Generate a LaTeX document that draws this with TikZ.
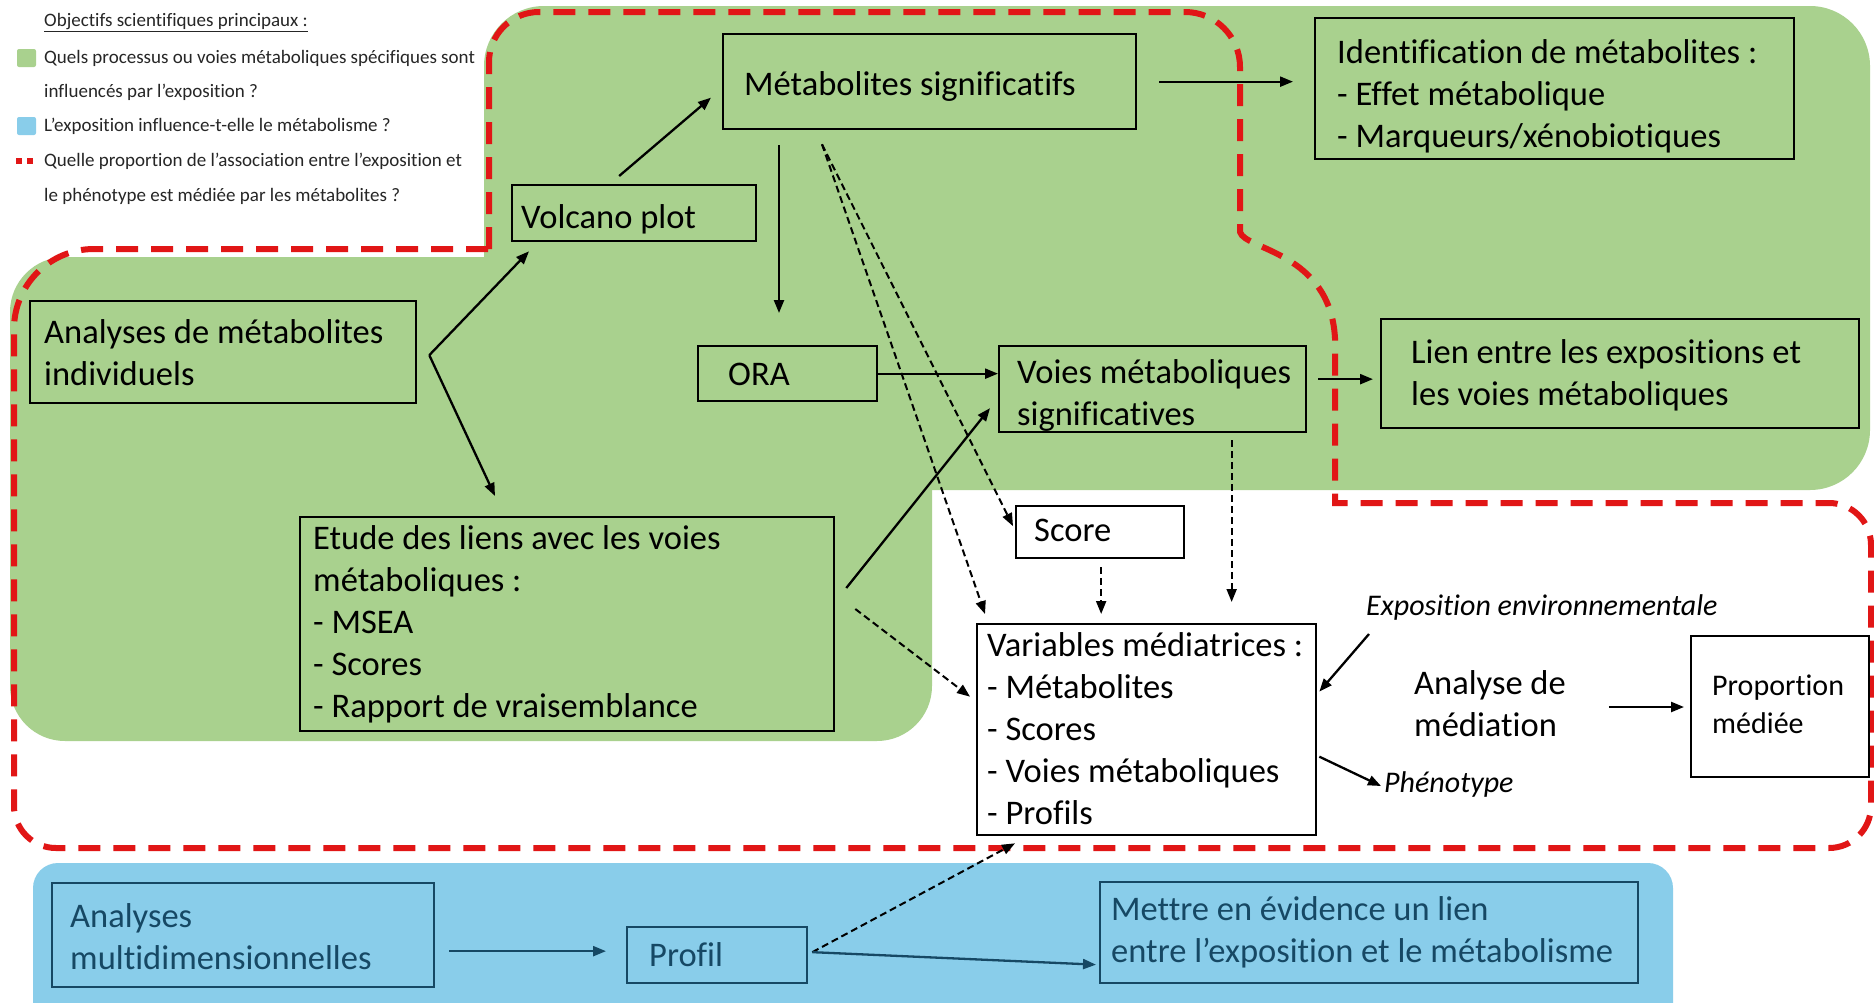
\documentclass[tikz,border=0pt]{standalone}
\usepackage{fontspec}
\setmainfont{Carlito}[Ligatures=CommonOff]
\usetikzlibrary{arrows.meta,calc}
\definecolor{vert}{RGB}{169,209,142}
\definecolor{bleu}{RGB}{137,205,234}
\definecolor{rouge}{RGB}{225,22,22}
\definecolor{bleufonce}{RGB}{22,72,100}
\begin{document}
\begin{tikzpicture}[x=1pt,y=-1pt,
  box/.style={draw, line width=2.3pt, anchor=north west, inner sep=0pt},
  txt/.style={anchor=west, align=left, inner sep=0pt, font=\fontsize{34.5}{42}\selectfont},
  itxt/.style={anchor=west, align=left, inner sep=0pt, font=\fontsize{30}{36}\selectfont\itshape},
  legtxt/.style={anchor=west, inner sep=0pt, font=\fontsize{19}{23}\selectfont, text=black!85},
  arr/.style={line width=2.3pt, -{Triangle[length=13pt,width=10pt]}},
  darr/.style={line width=2pt, dash pattern=on 7pt off 4pt, -{Triangle[length=13pt,width=10pt]}},
  reddash/.style={draw=rouge, line width=6pt, dash pattern=on 22pt off 13pt},
  bluebox/.style={box, draw=bleufonce},
  bluetxt/.style={txt, text=bleufonce},
  bluearr/.style={arr, draw=bleufonce, fill=bleufonce}
]
\useasboundingbox (0,0) rectangle (1874,1002);
% background regions
\fill[white] (0,0) rectangle (1874,1002);
\fill[vert, rounded corners=60pt] (484,6) rectangle (1870,490);
\fill[vert, rounded corners=55pt] (10,257) rectangle (932,741);
\fill[bleu, rounded corners=25pt] (33,863) rectangle (1673,1030);

% legend
\node[legtxt] (legT) at (44,23) {\underline{Objectifs scientifiques principaux :}};
\fill[vert, rounded corners=2pt] (17,49) rectangle (36,67);
\node[legtxt] (leg1) at (44,58) {Quels processus ou voies métaboliques spécifiques sont};
\node[legtxt] (leg2) at (44,92) {influencés par l’exposition ?};
\fill[bleu, rounded corners=2pt] (17,117) rectangle (36,135);
\node[legtxt] (leg3) at (44,126) {L’exposition influence-t-elle le métabolisme ?};
\fill[rouge] (16,158) rectangle (22,164);
\fill[rouge] (27,158) rectangle (33,164);
\node[legtxt] (leg4) at (44,161) {Quelle proportion de l’association entre l’exposition et};
\node[legtxt] (leg5) at (44,196) {le phénotype est médiée par les métabolites ?};

% red dashed boundary
\draw[reddash] (489,249) -- (489,62) .. controls (489,34.4) and (511.4,12) .. (539,12)
  -- (1185,12) .. controls (1215.4,12) and (1240,36.6) .. (1240,67)
  -- (1240,232) .. controls (1245,250) and (1330,252) .. (1335,338)
  -- (1335,503) -- (1829,503) .. controls (1852.2,503) and (1871,521.8) .. (1871,545)
  -- (1871,806) .. controls (1871,829.2) and (1852.2,848) .. (1829,848)
  -- (56,848) .. controls (32.8,848) and (14,829.2) .. (14,806)
  -- (14,329) .. controls (14,284.8) and (49.8,249) .. (94,249)
  -- (489,249);

% boxes
\node[box, minimum width=413pt, minimum height=95pt] (MetSig) at (722,33) {};
\node[txt] (MetSigT) at ($(MetSig.west)+(22,5)$) {Métabolites significatifs};

\node[box, minimum width=479pt, minimum height=141pt] (Ident) at (1314,17) {};
\node[txt] (IdentT) at ($(Ident.west)+(23,8)$) {Identification de métabolites :\\- Effet métabolique\\- Marqueurs/xénobiotiques};

\node[box, minimum width=244pt, minimum height=56pt] (Volcano) at (511,184) {};
\node[txt] (VolcanoT) at ($(Volcano.west)+(10,6)$) {Volcano plot};

\node[box, minimum width=386pt, minimum height=102pt] (AnInd) at (29,300) {};
\node[txt] (AnIndT) at ($(AnInd.west)+(15,0)$) {Analyses de métabolites\\individuels};

\node[box, minimum width=179pt, minimum height=55pt] (ORA) at (697,345) {};
\node[txt] (ORAT) at ($(ORA.west)+(31,1)$) {ORA};

\node[box, minimum width=307pt, minimum height=86pt] (Voies) at (998,345) {};
\node[txt] (VoiesT) at ($(Voies.west)+(19,6)$) {Voies métaboliques\\significatives};

\node[box, minimum width=478pt, minimum height=109pt] (Lien) at (1380,318) {};
\node[txt] (LienT) at ($(Lien.west)+(31,2)$) {Lien entre les expositions et\\les voies métaboliques};

\node[box, minimum width=534pt, minimum height=214pt] (Etude) at (299,516) {};
\node[txt] (EtudeT) at ($(Etude.west)+(14,0)$) {Etude des liens avec les voies\\métaboliques :\\- MSEA\\- Scores\\- Rapport de vraisemblance};

\node[box, fill=white, minimum width=168pt, minimum height=52pt] (Score) at (1015,505) {};
\node[txt] (ScoreT) at ($(Score.west)+(19,-2)$) {Score};

\node[box, fill=white, minimum width=339pt, minimum height=211pt] (Variables) at (976,623) {};
\node[txt] (VariablesT) at ($(Variables.west)+(11,-1)$) {Variables médiatrices :\\- Métabolites\\- Scores\\- Voies métaboliques\\- Profils};

\node[itxt] (Expo) at (1366,607) {Exposition environnementale};
\node[txt] (Mediation) at (1414,704) {Analyse de\\médiation};
\node[box, minimum width=178pt, minimum height=141pt] (Proportion) at (1690,635) {};
\node[txt, font=\fontsize{30}{38}\selectfont] (ProportionT) at ($(Proportion.west)+(22,-2)$) {Proportion\\médiée};
\node[itxt] (Phen) at (1384,784) {Phénotype};

\node[bluebox, minimum width=382pt, minimum height=104pt] (AnMulti) at (51,882) {};
\node[bluetxt] (AnMultiT) at ($(AnMulti.west)+(19,1)$) {Analyses\\multidimensionnelles};
\node[bluebox, minimum width=180pt, minimum height=56pt] (Profil) at (626,926) {};
\node[bluetxt] (ProfilT) at ($(Profil.west)+(23,-1)$) {Profil};
\node[bluebox, minimum width=538pt, minimum height=101pt] (Mettre) at (1099,881) {};
\node[bluetxt] (MettreT) at ($(Mettre.west)+(12,0)$) {Mettre en évidence un lien\\entre l’exposition et le métabolisme};

% helper coordinates
\coordinate (aiOut) at ($(AnInd.east)+(12,3)$);
\coordinate (msDown) at ($(MetSig.south west)+(57,15)$);
\coordinate (msDash) at ($(MetSig.south west)+(100,14)$);
\coordinate (scDown) at ($(Score.south)+(1,8)$);
\coordinate (voDown) at ($(Voies.south)+(79,7)$);
\coordinate (medOut) at ($(Mediation.east)+(43,3)$);
\coordinate (amOut) at ($(AnMulti.east)+(14,16)$);
\coordinate (prOut) at ($(Profil.east)+(4,-3)$);

% solid connectors
\draw[arr] ($(MetSig.east)+(22,0)$) -- ($(MetSig.east -| Ident.west)+(-21,0)$);
\draw[arr] ($(Volcano.north)+(-15,-8)$) -- ($(MetSig.west)+(-11,16)$);
\draw[arr] (aiOut) -- ($(Volcano.south west)+(18,9)$);
\draw[arr] (aiOut) -- ($(Etude.north west)+(196,-20)$);
\draw[arr] (msDown) -- ($(msDown |- ORA.north)+(0,-32)$);
\draw[arr] (ORA.east) -- (ORA.east -| Voies.west);
\draw[arr] ($(Etude.north east)+(11,72)$) -- ($(Voies.west)+(-8,19)$);
\draw[arr] ($(Voies.east)+(11,-10)$) -- ($(Voies.east -| Lien.west)+(-7,-10)$);
\draw[arr] ($(Expo.west)+(3,27)$) -- ($(Variables.east)+(2,-38)$);
\draw[arr] ($(Variables.east)+(2,27)$) -- ($(Phen.west)+(-3,2)$);
\draw[arr] (medOut) -- ($(medOut -| Proportion.west)+(-6,0)$);

% dashed connectors
\draw[darr] (msDash) -- ($(Score.west)+(-2,-6)$);
\draw[darr] (msDash) -- ($(Variables.north west)+(9,-9)$);
\draw[darr] (scDown) -- ($(scDown |- Variables.north)+(0,-9)$);
\draw[darr] (voDown) -- ($(voDown |- Variables.north)+(0,-21)$);
\draw[darr] ($(Etude.north east)+(20,93)$) -- ($(Variables.west)+(-6,-33)$);
\draw[darr] (prOut) -- ($(Variables.south west)+(39,7)$);

% blue connectors
\draw[bluearr] (amOut) -- ($(amOut -| Profil.west)+(-20,0)$);
\draw[bluearr] (prOut) -- ($(Mettre.west)+(-3,32)$);
\end{tikzpicture}
\end{document}
